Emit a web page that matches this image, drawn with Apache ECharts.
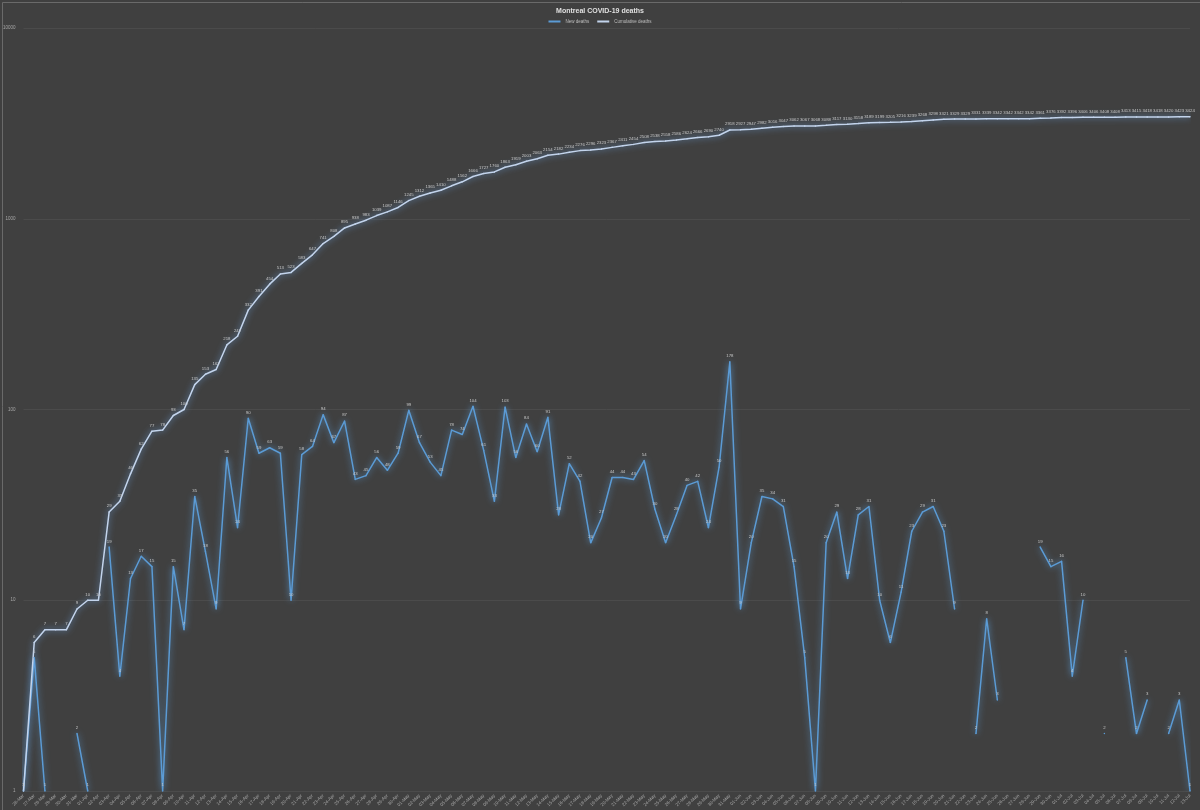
<!DOCTYPE html>
<html>
<head>
<meta charset="utf-8">
<script src="https://cdn.jsdelivr.net/npm/echarts@6/dist/echarts.min.js"></script>
<style>
html,body{margin:0;padding:0;background:#404040;}
#chart{width:1200px;height:810px;}
</style>
</head>
<body>
<div id="chart"></div>
<script>
const dates = [
 "26-Mar","27-Mar","28-Mar","29-Mar","30-Mar","31-Mar",
 "01-Apr","02-Apr","03-Apr","04-Apr","05-Apr","06-Apr","07-Apr","08-Apr","09-Apr","10-Apr",
 "11-Apr","12-Apr","13-Apr","14-Apr","15-Apr","16-Apr","17-Apr","18-Apr","19-Apr","20-Apr",
 "21-Apr","22-Apr","23-Apr","24-Apr","25-Apr","26-Apr","27-Apr","28-Apr","29-Apr","30-Apr",
 "01-May","02-May","03-May","04-May","05-May","06-May","07-May","08-May","09-May","10-May",
 "11-May","12-May","13-May","14-May","15-May","16-May","17-May","18-May","19-May","20-May",
 "21-May","22-May","23-May","24-May","25-May","26-May","27-May","28-May","29-May","30-May","31-May",
 "01-Jun","02-Jun","03-Jun","04-Jun","05-Jun","06-Jun","07-Jun","08-Jun","09-Jun","10-Jun",
 "11-Jun","12-Jun","13-Jun","14-Jun","15-Jun","16-Jun","17-Jun","18-Jun","19-Jun","20-Jun",
 "21-Jun","22-Jun","23-Jun","24-Jun","25-Jun","26-Jun","27-Jun","28-Jun","29-Jun","30-Jun",
 "01-Jul","02-Jul","03-Jul","04-Jul","05-Jul","06-Jul","07-Jul","08-Jul","09-Jul","10-Jul",
 "11-Jul","12-Jul","13-Jul"
];

// daily new deaths (null = 0, not drawable on log scale)
const newDeaths = [
 1,5,1,null,null,2,1,null,19,4,
 13,17,15,1,15,7,35,18,9,56,
 24,90,59,63,59,10,58,64,94,67,
 87,43,45,56,48,59,99,67,53,45,
 78,74,104,61,33,103,56,84,60,91,
 28,52,42,20,27,44,44,43,54,30,
 20,28,40,42,24,50,178,9,20,35,
 34,31,15,5,1,20,29,13,28,31,
 10,6,11,23,29,31,23,9,null,2,
 8,3,null,null,null,19,15,16,4,10,
 null,2,null,5,2,3,null,2,3,1
];

const cumulativeDeaths = [
 1,6,7,7,7,9,10,10,29,33,
 46,62,77,78,93,100,135,153,162,218,
 242,332,391,454,513,523,583,647,741,808,
 895,938,983,1039,1087,1146,1245,1312,1365,1410,
 1488,1562,1666,1727,1760,1863,1919,2003,2063,2154,
 2182,2234,2276,2296,2323,2367,2411,2454,2508,2538,
 2558,2586,2624,2666,2690,2740,2918,2927,2947,2982,
 3016,3047,3062,3067,3068,3088,3117,3130,3158,3189,
 3199,3205,3216,3239,3268,3298,3321,3329,3329,3331,
 3339,3342,3342,3342,3342,3361,3376,3392,3396,3406,
 3406,3408,3408,3413,3415,3418,3418,3420,3423,3424
];

const yTicks = [1,10,100,1000,10000];

const chart = echarts.init(document.getElementById('chart'), null, {renderer:'canvas'});
const labelStyle = {show:true, position:'top', distance:3, fontSize:4.3, color:'#c8c8c8', fontFamily:'Liberation Sans Narrow, Liberation Sans'};
chart.setOption({
  backgroundColor:'#404040',
  animation:false,
  title:{
    text:'Montreal COVID-19 deaths', left:'center', top:3,
    textStyle:{color:'#e0e0e0', fontSize:7, fontWeight:'bold', fontFamily:'Liberation Sans'}
  },
  legend:{
    top:14, left:'center', itemWidth:12, itemHeight:2, itemGap:8,
    icon:'rect',
    textStyle:{color:'#bfbfbf', fontSize:4.5, fontFamily:'Liberation Sans'},
    data:['New deaths','Cumulative deaths']
  },
  grid:{left:22, right:10, top:28, bottom:19},
  xAxis:{
    type:'category', data:dates, boundaryGap:false,
    axisLine:{show:false}, axisTick:{show:false},
    axisLabel:{interval:0, rotate:45, fontSize:4.5, color:'#a6a6a6', margin:4, fontFamily:'Liberation Sans'}
  },
  yAxis:{
    type:'log', logBase:10, min:yTicks[0], max:yTicks[yTicks.length-1],
    axisLine:{show:false}, axisTick:{show:false},
    axisLabel:{fontSize:4.5, color:'#a6a6a6', margin:8, fontFamily:'Liberation Sans',
      formatter:function(v){return String(Math.round(v));}},
    splitLine:{show:true, lineStyle:{color:'#4b4b4b', width:1}},
    minorSplitLine:{show:false}
  },
  series:[
    {
      name:'New deaths', type:'line', data:newDeaths, connectNulls:false,
      symbol:'circle', symbolSize:1.5, showSymbol:true,
      itemStyle:{color:'#5b9bd5'},
      lineStyle:{color:'#5b9bd5', width:1.5, shadowBlur:6, shadowColor:'rgba(91,155,213,0.95)'},
      label:labelStyle
    },
    {
      name:'Cumulative deaths', type:'line', data:cumulativeDeaths,
      symbol:'circle', symbolSize:1.5, showSymbol:true,
      itemStyle:{color:'#c3d4ec'},
      lineStyle:{color:'#c3d4ec', width:1.5, shadowBlur:6, shadowColor:'rgba(110,165,230,0.95)'},
      label:labelStyle
    }
  ],
  graphic:[{
    type:'rect', left:0, top:0, silent:true,
    shape:{x:0.5, y:0.5, width:1199, height:809},
    style:{fill:'none', stroke:'#6a6a6a', lineWidth:1}
  }]
});
</script>
</body>
</html>
